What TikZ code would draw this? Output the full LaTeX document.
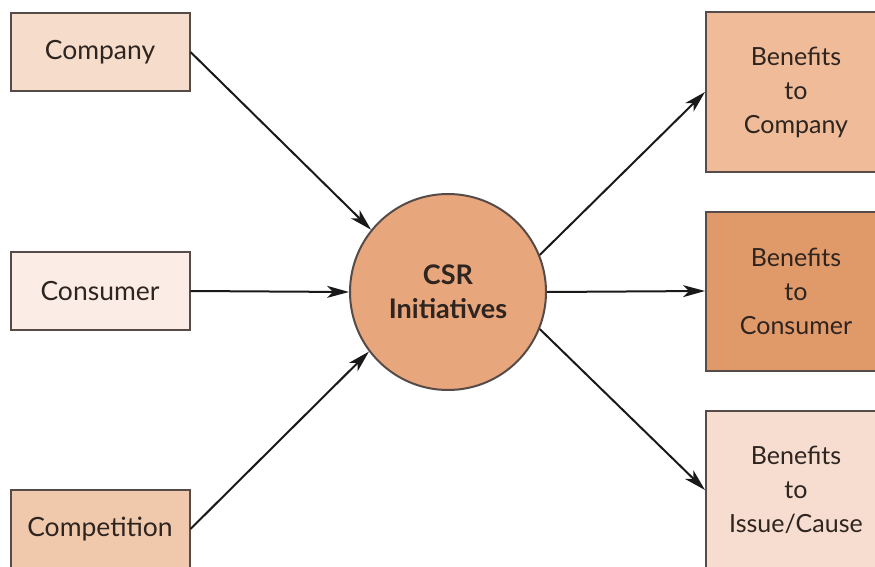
\documentclass[tikz,border=0pt]{standalone}
\usepackage{fontspec}
\setmainfont{Lato}
\usepackage{tikz}
\usetikzlibrary{arrows.meta,calc,positioning}

\definecolor{edgegray}{HTML}{554B48}
\definecolor{inkbrown}{HTML}{2E2420}
\definecolor{fillcompany}{HTML}{F5DCCB}
\definecolor{fillconsumer}{HTML}{FBEDE6}
\definecolor{fillcompetition}{HTML}{F0C8AC}
\definecolor{fillcsr}{HTML}{E8A67C}
\definecolor{fillbcompany}{HTML}{EFBB98}
\definecolor{fillbconsumer}{HTML}{E09A6A}
\definecolor{fillbissue}{HTML}{F6DDD0}

\tikzset{
  srcbox/.style={draw=edgegray, line width=2pt, minimum width=179pt,
    minimum height=78pt, inner sep=0pt, text=inkbrown,
    font=\fontsize{26.5}{30}\selectfont},
  benbox/.style={draw=edgegray, line width=2pt, minimum width=180pt,
    minimum height=159pt, inner sep=0pt, align=center, text=inkbrown,
    font=\fontsize{25}{34}\selectfont},
  flow/.style={draw=black!90, line width=2pt,
    -{Stealth[length=22pt, width=12pt, inset=6pt]}}
}

\begin{document}
\begin{tikzpicture}[x=1pt, y=-1pt]
            \useasboundingbox (0,0) rectangle (875,567);
            \clip (0,0) rectangle (875,567);
            % left side
            \node[srcbox, fill=fillcompany] (company) at (100,52) {Company};
            \node[srcbox, fill=fillconsumer] (consumer) at (100,291) {Consumer};
            \node[srcbox, fill=fillcompetition] (competition) at (100,529) {Competition};
            % centre
            \node[circle, draw=edgegray, line width=2pt, fill=fillcsr,
              minimum size=196pt, inner sep=0pt, align=center, text=inkbrown,
              font=\bfseries\fontsize{27}{34}\selectfont] (csr) at (448,292) {CSR\\Initiatives};
            % right side
            \node[benbox, fill=fillbcompany] (bcompany) at (796,92) {Benefits\\to\\Company};
            \node[benbox, fill=fillbconsumer] (bconsumer) at (796,291) {Benefits\\to\\Consumer};
            \node[benbox, fill=fillbissue] (bissue) at (796,490) {Benefits\\to\\Issue/Cause};
            % arrows
            \draw[flow] (company.east) -- (csr.141);
            \draw[flow] (consumer.east) -- (csr.west);
            \draw[flow] (competition.east) -- (csr.217);
            \draw[flow] (csr.22) -- (bcompany.west);
            \draw[flow] (csr.east) -- (bconsumer.west);
            \draw[flow] (csr.-22) -- (bissue.west);
          \end{tikzpicture}
\end{document}
